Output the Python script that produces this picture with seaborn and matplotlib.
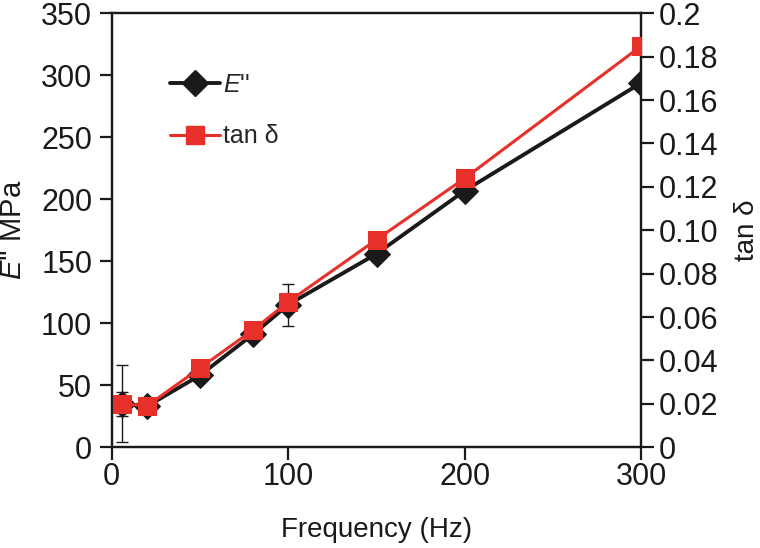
import numpy as np
import pandas as pd
import matplotlib
matplotlib.use("Agg")
import matplotlib.pyplot as plt
import seaborn as sns
from matplotlib.lines import Line2D

# ---- data ----
freq = [6, 20, 50, 80, 100, 150, 200, 300]
e_loss = [35, 33, 58, 91, 115, 156, 207, 294]
e_loss_err = [31, 0, 0, 0, 17, 0, 0, 0]
tan_delta = [0.020, 0.019, 0.0365, 0.054, 0.067, 0.0957, 0.124, 0.185]
tan_delta_err = [0.0056, 0, 0, 0, 0, 0, 0, 0]
x_ticks = [0, 100, 200, 300]
left_ticks = [0, 50, 100, 150, 200, 250, 300, 350]
right_ticks = [0, 0.02, 0.04, 0.06, 0.08, 0.10, 0.12, 0.14, 0.16, 0.18, 0.2]
right_labels = ["0", "0.02", "0.04", "0.06", "0.08", "0.10", "0.12", "0.14",
                "0.16", "0.18", "0.2"]

sns.set_theme(style="ticks")
plt.rcParams["font.family"] = ["Liberation Sans", "DejaVu Sans"]
plt.rcParams["mathtext.fontset"] = "custom"
plt.rcParams["mathtext.it"] = "Liberation Sans:italic"
plt.rcParams["mathtext.rm"] = "Liberation Sans"

BLACK = "#1a1a1a"
RED = "#e8302a"
TICK_FS = 22
LABEL_FS = 21

df = pd.DataFrame({"freq": freq, "E": e_loss, "Eerr": e_loss_err,
                   "tan": tan_delta, "tanerr": tan_delta_err})

fig = plt.figure(figsize=(7.6, 5.48), dpi=100)
ax = fig.add_axes([0.147, 0.184, 0.697, 0.7917])
ax2 = ax.twinx()

# error bars (only where present)
m = df["Eerr"] > 0
ax.errorbar(df.loc[m, "freq"], df.loc[m, "E"], yerr=df.loc[m, "Eerr"], fmt="none",
            ecolor=BLACK, elinewidth=1.0, capsize=4.5, capthick=1.0, zorder=1)
m2 = df["tanerr"] > 0
ax2.errorbar(df.loc[m2, "freq"], df.loc[m2, "tan"], yerr=df.loc[m2, "tanerr"], fmt="none",
             ecolor=BLACK, elinewidth=1.0, capsize=4.5, capthick=1.0, zorder=1)

sns.lineplot(data=df, x="freq", y="E", ax=ax, color=BLACK, linewidth=2.8,
             marker="D", markersize=13, markeredgecolor=BLACK,
             markerfacecolor=BLACK, zorder=3, legend=False)
sns.lineplot(data=df, x="freq", y="tan", ax=ax2, color=RED, linewidth=2.2,
             marker="s", markersize=13, markeredgecolor=RED,
             markerfacecolor=RED, zorder=3, legend=False)

ax.set_xlim(0, 300)
ax.set_ylim(0, 350)
ax2.set_ylim(0, 0.2)
ax.set_xticks(x_ticks)
ax.set_yticks(left_ticks)
ax2.set_yticks(right_ticks)
ax2.set_yticklabels(right_labels)

for a in (ax, ax2):
    for s in a.spines.values():
        s.set_linewidth(1.6)
        s.set_color(BLACK)
    a.tick_params(axis="both", direction="out", length=9, width=1.6,
                  colors=BLACK, labelsize=TICK_FS, labelcolor=BLACK)
ax.tick_params(axis="y", pad=5)
ax.tick_params(axis="x", pad=2)
ax2.tick_params(axis="y", pad=3.5)

ax.set_xlabel("Frequency (Hz)", fontsize=20, color=BLACK, labelpad=18)
ax.set_ylabel(r"$\mathit{E}$'' MPa", fontsize=LABEL_FS, color=BLACK, labelpad=10)
ax2.set_ylabel(r"tan δ", fontsize=20, color=BLACK, labelpad=11)

handles = [
    Line2D([], [], color=BLACK, linewidth=2.8, marker="D", markersize=13),
    Line2D([], [], color=RED, linewidth=2.2, marker="s", markersize=12.5),
]
labels = [r"$\mathit{E}$''", "tan δ"]
ax2.legend(handles, labels, loc="upper left", bbox_to_anchor=(0.1095, 0.862),
           frameon=False, fontsize=18, handlelength=2.0, handletextpad=0.12,
           labelspacing=1.09, borderpad=0, borderaxespad=0)

fig.savefig("out.png", dpi=100)
